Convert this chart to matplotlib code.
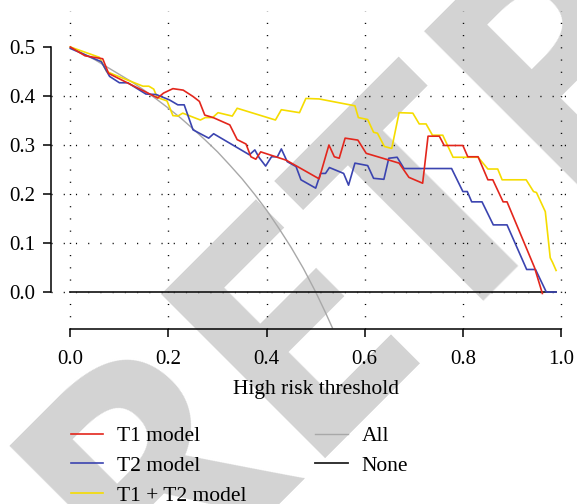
import matplotlib
matplotlib.use("Agg")
import matplotlib.pyplot as plt
from matplotlib.lines import Line2D
from matplotlib.textpath import TextPath
from matplotlib.font_manager import FontProperties

# threshold / net benefit
t1_x = [0, 0.03, 0.066, 0.078, 0.178, 0.19, 0.209, 0.23, 0.25, 0.263, 0.274, 0.291, 0.325,
        0.34, 0.358, 0.368, 0.378, 0.388, 0.44, 0.507, 0.527, 0.538, 0.548, 0.56, 0.586,
        0.603, 0.65, 0.67, 0.69, 0.718, 0.729, 0.752, 0.762, 0.8, 0.81, 0.831, 0.851,
        0.861, 0.882, 0.89, 0.946, 0.962]
t1_y = [0.5, 0.482, 0.476, 0.446, 0.396, 0.406, 0.415, 0.412, 0.399, 0.389, 0.361, 0.356, 0.341,
        0.311, 0.302, 0.276, 0.271, 0.286, 0.269, 0.231, 0.300, 0.276, 0.273, 0.314, 0.310,
        0.283, 0.269, 0.263, 0.234, 0.222, 0.318, 0.318, 0.299, 0.299, 0.276, 0.276, 0.229,
        0.229, 0.184, 0.184, 0.05, -0.003]

t2_x = [0, 0.063, 0.08, 0.1, 0.117, 0.154, 0.175, 0.202, 0.219, 0.232, 0.25, 0.282, 0.292,
        0.365, 0.376, 0.385, 0.398, 0.41, 0.422, 0.43, 0.442, 0.46, 0.47, 0.5, 0.51, 0.52,
        0.528, 0.557, 0.567, 0.58, 0.606, 0.618, 0.639, 0.649, 0.666, 0.68, 0.777, 0.8,
        0.809, 0.818, 0.839, 0.862, 0.89, 0.93, 0.948, 0.97, 0.99]
t2_y = [0.497, 0.47, 0.44, 0.427, 0.427, 0.404, 0.403, 0.392, 0.382, 0.382, 0.331, 0.314, 0.323,
        0.28, 0.29, 0.274, 0.257, 0.276, 0.276, 0.292, 0.266, 0.256, 0.229, 0.212, 0.242, 0.242,
        0.254, 0.242, 0.218, 0.263, 0.258, 0.232, 0.23, 0.273, 0.275, 0.252, 0.252, 0.205,
        0.205, 0.184, 0.184, 0.137, 0.137, 0.046, 0.046, 0.0, 0.0]

both_x = [0, 0.059, 0.074, 0.088, 0.148, 0.16, 0.17, 0.177, 0.197, 0.209, 0.219, 0.229, 0.265,
          0.275, 0.29, 0.301, 0.33, 0.34, 0.418, 0.43, 0.467, 0.48, 0.507, 0.58, 0.587, 0.606,
          0.618, 0.626, 0.64, 0.655, 0.67, 0.698, 0.711, 0.725, 0.738, 0.759, 0.78, 0.831,
          0.851, 0.871, 0.88, 0.929, 0.944, 0.95, 0.968, 0.978, 0.983, 0.99]
both_y = [0.5, 0.479, 0.45, 0.444, 0.42, 0.42, 0.414, 0.397, 0.39, 0.36, 0.359, 0.365, 0.351,
          0.356, 0.356, 0.366, 0.359, 0.375, 0.351, 0.372, 0.366, 0.395, 0.394, 0.38, 0.356, 0.352,
          0.326, 0.324, 0.297, 0.293, 0.366, 0.365, 0.343, 0.343, 0.32, 0.32, 0.275, 0.275,
          0.251, 0.251, 0.229, 0.229, 0.205, 0.203, 0.164, 0.07, 0.06, 0.044]

all_x = [0, 0.025, 0.05, 0.075, 0.1, 0.125, 0.15, 0.175, 0.2, 0.225, 0.25, 0.275, 0.3,
         0.325, 0.35, 0.375, 0.4, 0.425, 0.45, 0.475, 0.5, 0.52, 0.534]
all_y = [0.5, 0.487, 0.474, 0.459, 0.444, 0.429, 0.412, 0.394, 0.375, 0.355, 0.333, 0.31, 0.286,
         0.259, 0.231, 0.2, 0.167, 0.13, 0.091, 0.048, 0.0, -0.042, -0.073]

none_x = [0, 0.99]
none_y = [0, 0]

xticks = [0, 0.2, 0.4, 0.6, 0.8, 1.0]
yticks = [0, 0.1, 0.2, 0.3, 0.4, 0.5]
ygrid = [0, 0.1, 0.2, 0.3, 0.4]

serif = ["Liberation Serif", "DejaVu Serif"]
W, H = 577, 504

fig = plt.figure(figsize=(W / 100, H / 100), dpi=100, facecolor="white")
ax = fig.add_axes([0.0879, 0.3472, 0.9184, 0.6315])
ax.patch.set_visible(False)

# watermark: size and place it so the E's top-left corner lands where it is in the reference
wm_font = FontProperties(family="Open Sans", weight="bold")
r_path = TextPath((0, 0), "R", size=100, prop=wm_font)
re_path = TextPath((0, 0), "RE", size=100, prop=wm_font)
r_right = r_path.vertices[:, 0].max()
e_verts = re_path.vertices[re_path.vertices[:, 0] > r_right + 0.01]
e_left, e_top = e_verts[:, 0].min(), e_verts[:, 1].max()
wm_size = 233 * 72 / e_top                 # cap height of ~233 px
e_left_px = e_left * wm_size / 72
cap_px = 233
c = 0.7071
ax_px = 153 - c * e_left_px + c * cap_px
ay_px = 272 + c * e_left_px + c * cap_px
fig.text(ax_px / W, 1 - ay_px / H, "RETRACTED", rotation=45, rotation_mode="anchor",
         ha="left", va="baseline", fontsize=wm_size, fontproperties=wm_font,
         color="#d3d3d3", zorder=-5)

dots = (0, (0.8, 8))
for gx in xticks:
    ax.axvline(gx, color="black", lw=1.0, linestyle=dots, zorder=1)
for gy in ygrid:
    ax.axhline(gy, color="black", lw=1.0, linestyle=dots, zorder=1)

ax.plot(all_x, all_y, color="#a8a8a8", lw=1.0, zorder=2)
ax.plot(none_x, none_y, color="#222222", lw=1.3, zorder=2)
ax.plot(both_x, both_y, color="#f5dc00", lw=1.2, zorder=3)
ax.plot(t2_x, t2_y, color="#3b44b0", lw=1.2, zorder=4)
ax.plot(t1_x, t1_y, color="#e3261c", lw=1.2, zorder=5)

ax.set_xlim(-0.04, 1.04)
ax.set_ylim(-0.0755, 0.574)
for side in ["top", "right"]:
    ax.spines[side].set_visible(False)
ax.spines["left"].set_bounds(0, 0.5)
ax.spines["bottom"].set_bounds(0, 1.0)
ax.spines["left"].set_linewidth(1.1)
ax.spines["bottom"].set_linewidth(1.1)

ax.set_xticks(xticks)
ax.set_yticks(yticks)
ax.set_xticklabels([f"{v:.1f}" for v in xticks], family=serif, fontsize=15)
ax.set_yticklabels([f"{v:.1f}" for v in yticks], family=serif, fontsize=15)
ax.tick_params(axis="both", direction="out", length=5.8, width=1.1)
ax.tick_params(axis="x", pad=9)
ax.tick_params(axis="y", pad=5.5)

ax.set_xlabel("High risk threshold", family=serif, fontsize=15.5)
ax.xaxis.label.set_va("center")
ax.xaxis.set_label_coords(0.5, -0.1916)

handles = [
    Line2D([], [], color="#e3261c", lw=1.2, label="T1 model"),
    Line2D([], [], color="#3b44b0", lw=1.2, label="T2 model"),
    Line2D([], [], color="#f5dc00", lw=1.2, label="T1 + T2 model"),
    Line2D([], [], color="#a8a8a8", lw=1.0, label="All"),
    Line2D([], [], color="#222222", lw=1.3, label="None"),
]
fig.legend(handles=handles, ncol=2, loc="upper left", bbox_to_anchor=(0.123, 0.1548),
           frameon=False, prop={"family": serif, "size": 15.5}, borderpad=0,
           borderaxespad=0, handlelength=1.49, handletextpad=0.65,
           columnspacing=3.2, labelspacing=0.46)

fig.savefig("out.png", dpi=100)
